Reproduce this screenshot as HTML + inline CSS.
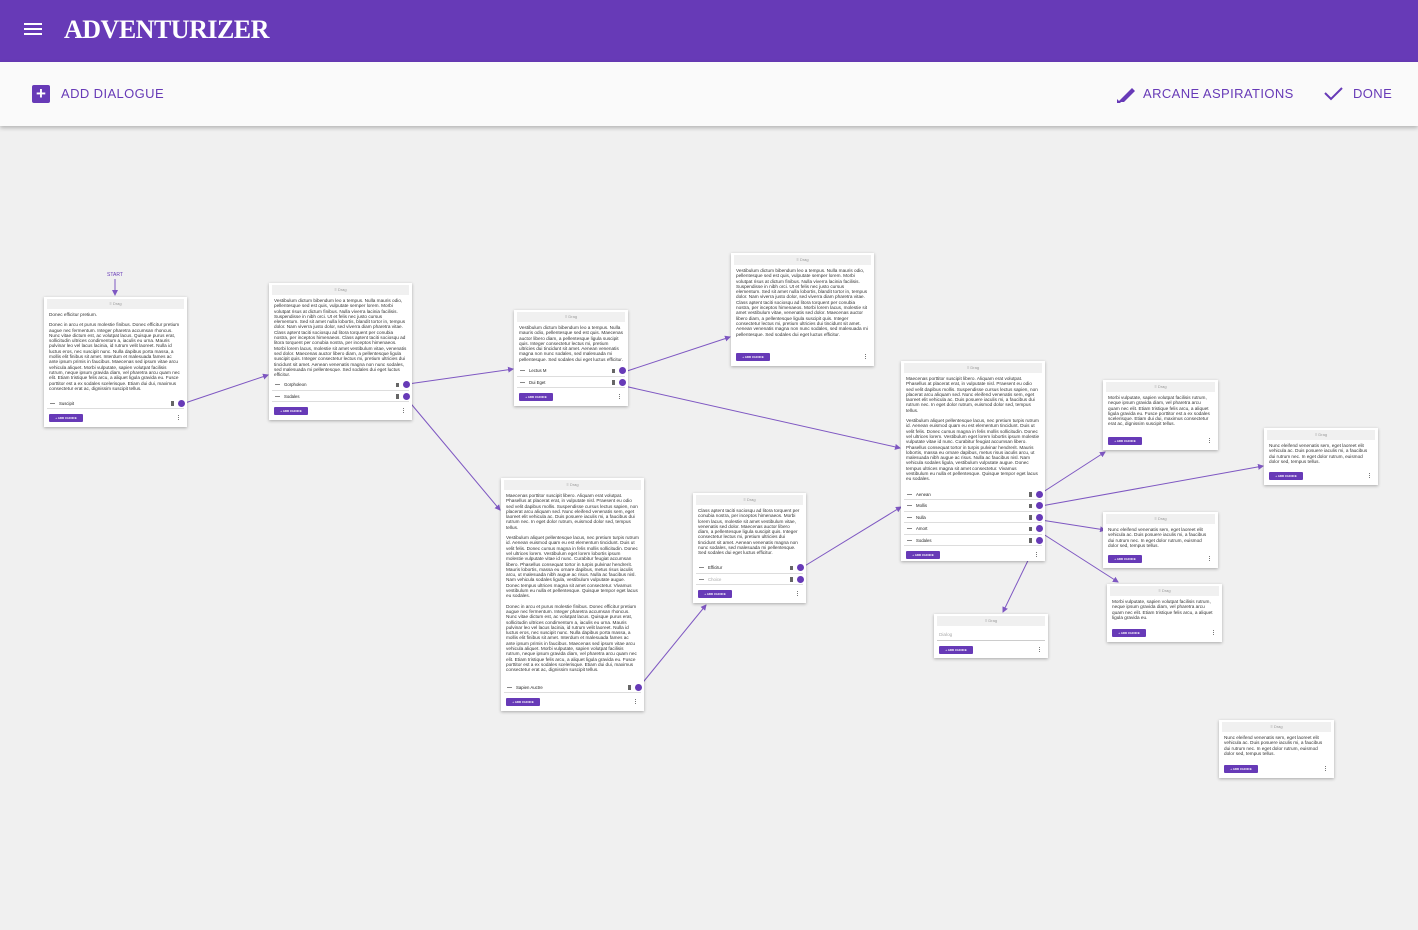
<!DOCTYPE html>
<html><head><meta charset="utf-8">
<style>
*{box-sizing:border-box;margin:0;padding:0}
body{width:1418px;height:930px;background:#f0f0f0;font-family:"Liberation Sans",sans-serif;position:relative;overflow:hidden}
.top{position:absolute;left:0;top:0;width:1418px;height:62px;background:#673ab7}
.burger{position:absolute;left:24px;top:23px;width:18px;height:2px;background:#fff;box-shadow:0 5px 0 #fff,0 10px 0 #fff}
.logo{position:absolute;left:64px;top:15px;color:#fff;font-family:"Liberation Serif",serif;font-weight:bold;font-size:26px;letter-spacing:-0.5px}
.tb{position:absolute;left:0;top:62px;width:1418px;height:64px;background:#fafafa;box-shadow:0 2px 4px rgba(0,0,0,.25)}
.tb span{position:absolute;top:24px;font-size:13px;letter-spacing:.4px;color:#673ab7}
.plus{position:absolute;left:32px;top:85px;width:18px;height:18px;background:#673ab7;border-radius:2px;color:#fff;font-size:17px;line-height:18px;text-align:center;font-weight:bold}
.card{position:absolute;background:#fff;box-shadow:0 1px 3px rgba(0,0,0,.3);display:flex;flex-direction:column;padding:2px 3px 0}
.hd{height:10px;background:#f0f0f0;font-size:4px;color:#999;text-align:center;line-height:10px;flex:none}
.bd{flex:1;overflow:hidden;font-size:4.7px;line-height:5.3px;color:#333;padding:3px 2px 0}
.bd p{margin-bottom:5px}
.ch{flex:none;height:11.5px;border-bottom:1px solid #ddd;position:relative;font-size:4.3px;line-height:11px;padding-left:12px;color:#222}
.ch:before{content:"";position:absolute;left:3px;top:5px;width:5px;height:1px;background:#888}
.ch .tr{position:absolute;right:10px;top:3.5px;width:3px;height:4.5px;background:#666}
.ch .o{position:absolute;right:-1px;top:2px;width:7px;height:7px;border-radius:50%;background:#673ab7}
.ch.ph{color:#aaa}
.ft{flex:none;height:18px;position:relative}
.ft .b{position:absolute;left:2px;top:5px;width:34px;height:8px;background:#673ab7;border-radius:1px;color:#fff;font-size:3px;line-height:8px;text-align:center;font-weight:bold}
.ft .d{position:absolute;right:5px;top:6px;width:1px;height:1px;background:#777;box-shadow:0 2px 0 #777,0 4px 0 #777}
svg{position:absolute;left:0;top:0}
</style></head><body>
<div class="top"><div class="burger"></div><div class="logo">ADVENTURIZER</div></div>
<div class="tb"><span style="left:61px">ADD DIALOGUE</span><span style="left:1143px">ARCANE ASPIRATIONS</span><span style="left:1353px">DONE</span>
<svg width="1418" height="64" style="top:0"><path d="M1118 40 l3 -3 l11 -11 l3 3 l-11 11 z M1117 41 v-4 l4 4z" fill="#673ab7"/><path d="M1325 31 l6 6 l11 -11" stroke="#673ab7" stroke-width="2" fill="none"/></svg></div>
<div class="plus">+</div>

<svg width="1418" height="930">
<defs><marker id="a" markerWidth="6" markerHeight="6" refX="5" refY="3" orient="auto" markerUnits="userSpaceOnUse"><path d="M0 0L6 3L0 6z" fill="#7e57c2"/></marker></defs>
<text x="115" y="276" font-size="5" fill="#673ab7" text-anchor="middle" font-family="Liberation Sans">START</text>
<g stroke="#7e57c2" stroke-width="1" fill="none" marker-end="url(#a)">
<line x1="115" y1="279" x2="115" y2="295"/>
<line x1="182" y1="404" x2="268" y2="375"/>
<line x1="408" y1="384" x2="513" y2="369"/>
<line x1="407" y1="399" x2="500" y2="510"/>
<line x1="624" y1="372" x2="730" y2="337"/>
<line x1="624" y1="386" x2="900" y2="448"/>
<line x1="640" y1="686" x2="706" y2="605"/>
<line x1="803" y1="567" x2="901" y2="507"/>
<line x1="1040" y1="494" x2="1105" y2="452"/>
<line x1="1041" y1="506" x2="1263" y2="466"/>
<line x1="1041" y1="520" x2="1105" y2="530"/>
<line x1="1040" y1="532" x2="1118" y2="582"/>
<line x1="1036" y1="544" x2="1003" y2="612"/>
</g></svg>

<div class="card" style="left:44px;top:297px;width:143px;height:130px"><div class="hd">≡ Drag</div><div class="bd"><p>Donec efficitur pretium.</p><p>Donec in arcu et purus molestie finibus. Donec efficitur pretium augue nec fermentum. Integer pharetra accumsan rhoncus. Nunc vitae dictum est, ac volutpat lacus. Quisque purus erat, sollicitudin ultrices condimentum a, iaculis eu urna. Mauris pulvinar leo vel lacus lacinia, id rutrum velit laoreet. Nulla id luctus eros, nec suscipit nunc. Nulla dapibus porta massa, a mollis elit finibus sit amet. Interdum et malesuada fames ac ante ipsum primis in faucibus. Maecenas sed ipsum vitae arcu vehicula aliquet. Morbi vulputate, sapien volutpat facilisis rutrum, neque ipsum gravida diam, vel pharetra arcu quam nec elit. Etiam tristique felis arcu, a aliquet ligula gravida eu. Fusce porttitor est a ex sodales scelerisque. Etiam dui dui, maximus consectetur erat ac, dignissim suscipit tellus.</p></div><div class="ch">Suscipit<i class="tr"></i><i class="o"></i></div><div class="ft"><div class="b">+ ADD CHOICE</div><div class="d"></div></div></div>

<div class="card" style="left:269px;top:283px;width:143px;height:137px"><div class="hd">≡ Drag</div><div class="bd">Vestibulum dictum bibendum leo a tempus. Nulla mauris odio, pellentesque sed est quis, vulputate semper lorem. Morbi volutpat risus at dictum finibus. Nulla viverra lacinia facilisis. Suspendisse in nibh orci. Ut et felis nec justo cursus elementum. Sed sit amet nulla lobortis, blandit tortor in, tempus dolor. Nam viverra justo dolor, sed viverra diam pharetra vitae. Class aptent taciti sociosqu ad litora torquent per conubia nostra, per inceptos himenaeos. Class aptent taciti sociosqu ad litora torquent per conubia nostra, per inceptos himenaeos. Morbi lorem lacus, molestie sit amet vestibulum vitae, venenatis sed dolor. Maecenas auctor libero diam, a pellentesque ligula suscipit quis. Integer consectetur lectus mi, pretium ultricies dui tincidunt sit amet. Aenean venenatis magna non nunc sodales, sed malesuada mi pellentesque. Sed sodales dui eget luctus efficitur.</div><div class="ch">Gorpholeon<i class="tr"></i><i class="o"></i></div><div class="ch">Sodales<i class="tr"></i><i class="o"></i></div><div class="ft"><div class="b">+ ADD CHOICE</div><div class="d"></div></div></div>

<div class="card" style="left:514px;top:310px;width:114px;height:96px"><div class="hd">≡ Drag</div><div class="bd">Vestibulum dictum bibendum leo a tempus. Nulla mauris odio, pellentesque sed est quis. Maecenas auctor libero diam, a pellentesque ligula suscipit quis. Integer consectetur lectus mi, pretium ultricies dui tincidunt sit amet. Aenean venenatis magna non nunc sodales, sed malesuada mi pellentesque. Sed sodales dui eget luctus efficitur.</div><div class="ch">Lectus M<i class="tr"></i><i class="o"></i></div><div class="ch">Dui Eget<i class="tr"></i><i class="o"></i></div><div class="ft"><div class="b">+ ADD CHOICE</div><div class="d"></div></div></div>

<div class="card" style="left:731px;top:253px;width:143px;height:113px"><div class="hd">≡ Drag</div><div class="bd">Vestibulum dictum bibendum leo a tempus. Nulla mauris odio, pellentesque sed est quis, vulputate semper lorem. Morbi volutpat risus at dictum finibus. Nulla viverra lacinia facilisis. Suspendisse in nibh orci. Ut et felis nec justo cursus elementum. Sed sit amet nulla lobortis, blandit tortor in, tempus dolor. Nam viverra justo dolor, sed viverra diam pharetra vitae. Class aptent taciti sociosqu ad litora torquent per conubia nostra, per inceptos himenaeos. Morbi lorem lacus, molestie sit amet vestibulum vitae, venenatis sed dolor. Maecenas auctor libero diam, a pellentesque ligula suscipit quis. Integer consectetur lectus mi, pretium ultricies dui tincidunt sit amet. Aenean venenatis magna non nunc sodales, sed malesuada mi pellentesque. Sed sodales dui eget luctus efficitur.</div><div class="ft"><div class="b">+ ADD CHOICE</div><div class="d"></div></div></div>

<div class="card" style="left:901px;top:361px;width:144px;height:200px"><div class="hd">≡ Drag</div><div class="bd"><p>Maecenas porttitor suscipit libero. Aliquam erat volutpat. Phasellus at placerat erat, in vulputate nisl. Praesent eu odio sed velit dapibus mollis. Suspendisse cursus lectus sapien, non placerat arcu aliquam sed. Nunc eleifend venenatis sem, eget laoreet elit vehicula ac. Duis posuere iaculis mi, a faucibus dui rutrum nec. In eget dolor rutrum, euismod dolor sed, tempus tellus.</p><p>Vestibulum aliquet pellentesque lacus, nec pretium turpis rutrum id. Aenean euismod quam eu est elementum tincidunt. Duis ut velit felis. Donec cursus magna in felis mollis sollicitudin. Donec vel ultrices lorem. Vestibulum eget lorem lobortis ipsum molestie vulputate vitae id nunc. Curabitur feugiat accumsan libero. Phasellus consequat tortor in turpis pulvinar hendrerit. Mauris lobortis, massa eu ornare dapibus, metus risus iaculis arcu, ut malesuada nibh augue ac risus. Nulla ac faucibus nisl. Nam vehicula sodales ligula, vestibulum vulputate augue. Donec tempus ultrices magna sit amet consectetur. Vivamus vestibulum eu nulla et pellentesque. Quisque tempor eget lacus eu sodales.</p></div><div class="ch">Aenean<i class="tr"></i><i class="o"></i></div><div class="ch">Mollis<i class="tr"></i><i class="o"></i></div><div class="ch">Nulla<i class="tr"></i><i class="o"></i></div><div class="ch">Amort<i class="tr"></i><i class="o"></i></div><div class="ch">Sodales<i class="tr"></i><i class="o"></i></div><div class="ft" style="height:15px"><div class="b">+ ADD CHOICE</div><div class="d"></div></div></div>

<div class="card" style="left:501px;top:478px;width:143px;height:233px"><div class="hd">≡ Drag</div><div class="bd"><p>Maecenas porttitor suscipit libero. Aliquam erat volutpat. Phasellus at placerat erat, in vulputate nisl. Praesent eu odio sed velit dapibus mollis. Suspendisse cursus lectus sapien, non placerat arcu aliquam sed. Nunc eleifend venenatis sem, eget laoreet elit vehicula ac. Duis posuere iaculis mi, a faucibus dui rutrum nec. In eget dolor rutrum, euismod dolor sed, tempus tellus.</p><p>Vestibulum aliquet pellentesque lacus, nec pretium turpis rutrum id. Aenean euismod quam eu est elementum tincidunt. Duis ut velit felis. Donec cursus magna in felis mollis sollicitudin. Donec vel ultrices lorem. Vestibulum eget lorem lobortis ipsum molestie vulputate vitae id nunc. Curabitur feugiat accumsan libero. Phasellus consequat tortor in turpis pulvinar hendrerit. Mauris lobortis, massa eu ornare dapibus, metus risus iaculis arcu, ut malesuada nibh augue ac risus. Nulla ac faucibus nisl. Nam vehicula sodales ligula, vestibulum vulputate augue. Donec tempus ultrices magna sit amet consectetur. Vivamus vestibulum eu nulla et pellentesque. Quisque tempor eget lacus eu sodales.</p><p>Donec in arcu et purus molestie finibus. Donec efficitur pretium augue nec fermentum. Integer pharetra accumsan rhoncus. Nunc vitae dictum est, ac volutpat lacus. Quisque purus erat, sollicitudin ultrices condimentum a, iaculis eu urna. Mauris pulvinar leo vel lacus lacinia, id rutrum velit laoreet. Nulla id luctus eros, nec suscipit nunc. Nulla dapibus porta massa, a mollis elit finibus sit amet. Interdum et malesuada fames ac ante ipsum primis in faucibus. Maecenas sed ipsum vitae arcu vehicula aliquet. Morbi vulputate, sapien volutpat facilisis rutrum, neque ipsum gravida diam, vel pharetra arcu quam nec elit. Etiam tristique felis arcu, a aliquet ligula gravida eu. Fusce porttitor est a ex sodales scelerisque. Etiam dui dui, maximus consectetur erat ac, dignissim suscipit tellus.</p></div><div class="ch">Sapien Auctre<i class="tr"></i><i class="o"></i></div><div class="ft"><div class="b">+ ADD CHOICE</div><div class="d"></div></div></div>

<div class="card" style="left:693px;top:493px;width:113px;height:110px"><div class="hd">≡ Drag</div><div class="bd">Class aptent taciti sociosqu ad litora torquent per conubia nostra, per inceptos himenaeos. Morbi lorem lacus, molestie sit amet vestibulum vitae, venenatis sed dolor. Maecenas auctor libero diam, a pellentesque ligula suscipit quis. Integer consectetur lectus mi, pretium ultricies dui tincidunt sit amet. Aenean venenatis magna non nunc sodales, sed malesuada mi pellentesque. Sed sodales dui eget luctus efficitur.</div><div class="ch">Efficitur<i class="tr"></i><i class="o"></i></div><div class="ch ph">Choice<i class="tr"></i><i class="o"></i></div><div class="ft"><div class="b">+ ADD CHOICE</div><div class="d"></div></div></div>

<div class="card" style="left:1103px;top:380px;width:115px;height:70px"><div class="hd">≡ Drag</div><div class="bd">Morbi vulputate, sapien volutpat facilisis rutrum, neque ipsum gravida diam, vel pharetra arcu quam nec elit. Etiam tristique felis arcu, a aliquet ligula gravida eu. Fusce porttitor est a ex sodales scelerisque. Etiam dui dui, maximus consectetur erat ac, dignissim suscipit tellus.</div><div class="ft"><div class="b">+ ADD CHOICE</div><div class="d"></div></div></div>

<div class="card" style="left:1264px;top:428px;width:114px;height:57px"><div class="hd">≡ Drag</div><div class="bd">Nunc eleifend venenatis sem, eget laoreet elit vehicula ac. Duis posuere iaculis mi, a faucibus dui rutrum nec. In eget dolor rutrum, euismod dolor sed, tempus tellus.</div><div class="ft"><div class="b">+ ADD CHOICE</div><div class="d"></div></div></div>

<div class="card" style="left:1103px;top:512px;width:115px;height:56px"><div class="hd">≡ Drag</div><div class="bd">Nunc eleifend venenatis sem, eget laoreet elit vehicula ac. Duis posuere iaculis mi, a faucibus dui rutrum nec. In eget dolor rutrum, euismod dolor sed, tempus tellus.</div><div class="ft"><div class="b">+ ADD CHOICE</div><div class="d"></div></div></div>

<div class="card" style="left:1107px;top:584px;width:115px;height:58px"><div class="hd">≡ Drag</div><div class="bd">Morbi vulputate, sapien volutpat facilisis rutrum, neque ipsum gravida diam, vel pharetra arcu quam nec elit. Etiam tristique felis arcu, a aliquet ligula gravida eu.</div><div class="ft"><div class="b">+ ADD CHOICE</div><div class="d"></div></div></div>

<div class="card" style="left:934px;top:614px;width:114px;height:44px"><div class="hd">≡ Drag</div><div class="bd" style="color:#aaa;padding-top:6px">Dialog</div><div class="ft" style="border-top:1px solid #ccc"><div class="b">+ ADD CHOICE</div><div class="d"></div></div></div>

<div class="card" style="left:1219px;top:720px;width:115px;height:58px"><div class="hd">≡ Drag</div><div class="bd">Nunc eleifend venenatis sem, eget laoreet elit vehicula ac. Duis posuere iaculis mi, a faucibus dui rutrum nec. In eget dolor rutrum, euismod dolor sed, tempus tellus.</div><div class="ft"><div class="b">+ ADD CHOICE</div><div class="d"></div></div></div>
</body></html>
